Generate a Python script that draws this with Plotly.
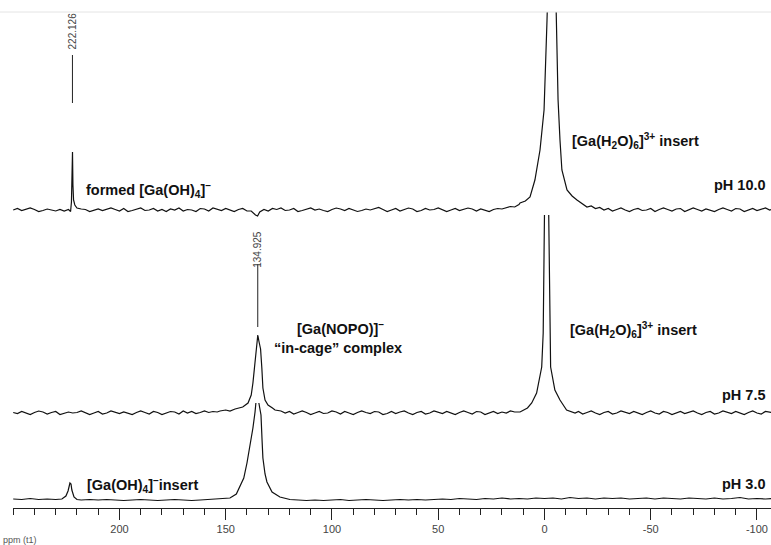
import plotly.graph_objects as go

# ---------------- data (ppm, intensity above each spectrum's own baseline) ----------------
PH10 = [
    (250, 0), (248, 1.5), (246, -0.5), (244, 1), (242, 2), (240, 0.5), (238, -1.5), (236, -0.5), (234, 1), (232, 0),
    (230, -1), (228, 0.5), (226, -1), (224, 0.5), (223, -1.5), (222.6, 8), (222.3, 30), (222.1, 58), (221.9, 25), (221.6, 10),
    (221, 5), (220, 2), (218, 1), (216, 0.5),
    (214, -1.5), (212, 0), (210, 1), (208, -0.5), (206, 0.5), (204, 2), (202, 0.5), (200, -1), (198, 1.5), (196, -1.5),
    (194, -0.5), (192, 1), (190, 2), (188, -0.5), (186, 0), (184, 1.5), (182, -1), (180, 0.5), (178, -1.5), (176, 1),
    (174, 0), (172, 2), (170, -1), (168, 0.5), (166, 0), (164, -1.5), (162, 1.5), (160, 1), (158, -1), (156, 2),
    (154, 0.5), (152, -0.5), (150, 1.5), (148, 0), (146, -1.5), (144, 0.5), (142, 1.5), (140, -1),
    (138, -1), (136, -5), (135, -6), (134, -2),
    (132, 0.5), (130, -1), (128, 1.5), (126, 0.5), (124, 2), (122, -0.5), (120, 0), (118, 1.5), (116, -1.5), (114, -0.5),
    (112, 1), (110, 2), (108, 0), (106, 1), (104, -0.5), (102, -1.5), (100, 0.5), (98, 2), (96, 1), (94, -0.5),
    (92, 1.5), (90, 0), (88, -1.5), (86, -0.5), (84, 1), (82, 0), (80, 1), (78, 2.5), (76, 0.5), (74, -1.5),
    (72, 0), (70, 1.5), (68, -1), (66, 0.5), (64, 2), (62, 1), (60, -1.5), (58, -0.5), (56, 1.5), (54, 0),
    (52, 0.5), (50, 2), (48, 0.5), (46, -1.5), (44, 0), (42, 1.5), (40, -0.5), (38, 0.5), (36, 2), (34, 1),
    (32, -1), (30, 1), (28, 0), (26, -1.5), (24, 0.5), (22, 1.5), (20, 1), (18, 2.5), (16, 3.5), (14, 3),
    (12, 5.5), (11.5, 7), (9, 9), (6.8, 13), (4.5, 30), (2.1, 60), (0.2, 100), (-1.2, 190), (-2.1, 300), (-3.3, 350),
    (-4.5, 300), (-5.4, 197), (-6.4, 110), (-7.3, 70), (-8.2, 40), (-10.6, 20), (-13, 14), (-15.3, 10), (-18, 6), (-20, 3),
    (-22, 4), (-24, 1.5), (-26, 2.5), (-28, 0),
    (-30, 1.5), (-32, -1), (-34, 0.5), (-36, 2), (-38, 0), (-40, -1.5), (-42, 0.5), (-44, 1.5), (-46, -0.5), (-48, 0),
    (-50, 1.5), (-52, -1.5), (-54, 0.5), (-56, 2), (-58, 0.5), (-60, -1), (-62, 1), (-64, 1.5), (-66, -1.5), (-68, 0),
    (-70, 2), (-72, 0.5), (-74, -1), (-76, 1), (-78, 0), (-80, -1.5), (-82, 0.5), (-84, 2), (-86, 0.5), (-88, -1),
    (-90, 1.5), (-92, 1), (-94, -1.5), (-96, 0), (-98, 1.5), (-100, -0.5), (-102, 0.5), (-104, 2), (-106, 0), (-108, 1),
]

PH75 = [
    (250, 0.5), (248, -0.5), (246, 1.5), (244, 0), (242, -1.5), (240, 0.5), (238, 2), (236, 1), (234, -1), (232, 0.5),
    (230, 1.5), (228, -1.5), (226, -0.5), (224, 1), (222, 0), (220, 0.5), (218, 2), (216, 0.5), (214, -1.5), (212, 0),
    (210, 1.5), (208, -1), (206, 0), (204, 2), (202, 1), (200, -0.5), (198, 1), (196, 0), (194, -1.5), (192, 0.5),
    (190, 2), (188, 0.5), (186, -1), (184, 1.5), (182, 0.5), (180, -1.5), (178, 0), (176, 1.5), (174, 1), (172, -1),
    (170, 2), (168, 0), (166, 1.5), (164, -0.5), (162, 0.5), (160, 2), (158, 0.5), (156, 1.5), (154, 1),
    (152.7, 2), (150, 3), (148, 2), (145.6, 4), (142, 6), (139.5, 10), (138, 18), (137.2, 30), (136.2, 50), (135.3, 70),
    (134.9, 78), (134.4, 72), (133.6, 64), (133.0, 45), (132.5, 25), (131.5, 13), (130.1, 8), (128, 5), (126.8, 3), (124, 2),
    (122, 0), (120, 1.5), (118, -1), (116, 0.5), (114, 2), (112, 0.5), (110, -1.5), (108, 0), (106, 1.5), (104, -0.5),
    (102, 0), (100, 2), (98, 1), (96, -1), (94, 1.5), (92, 0), (90, -1.5), (88, 0.5), (86, 2), (84, 0.5),
    (82, -0.5), (80, 1.5), (78, 1), (76, -1.5), (74, -0.5), (72, 1.5), (70, -0.5), (68, 1), (66, 2), (64, 0),
    (62, -1.5), (60, 0.5), (58, 1.5), (56, -1), (54, 0), (52, 2), (50, 1), (48, -0.5), (46, 1.5), (44, 0),
    (42, -1.5), (40, 0.5), (38, 2), (36, 0.5), (34, -1), (32, 1.5), (30, 1), (28, -1.5), (26, 0), (24, 1.5),
    (22, -0.5), (20, 1), (18, 0), (16, 2), (14, 1), (11.5, 1), (8, 5), (6.0, 10), (3.7, 20), (1.3, 46),
    (0.6, 80), (0.2, 150), (0.0, 198), (-1.0, None), (-2.0, 198), (-2.2, 150), (-2.4, 96), (-2.9, 46), (-4.9, 23), (-7.3, 13),
    (-10.4, 3), (-12, 2), (-14.4, 0), (-16, 1.5), (-18, -1), (-20, 0.5), (-22, 2), (-24, 0), (-26, -1.5), (-28, 0.5),
    (-30, 1.5), (-32, -1), (-34, 0), (-36, 2), (-38, 1), (-40, -0.5), (-42, 1.5), (-44, 0), (-46, -1.5), (-48, 0.5),
    (-50, 2), (-52, 0), (-54, -1), (-56, 1.5), (-58, 0.5), (-60, -1.5), (-62, 0), (-64, 1.5), (-66, -0.5), (-68, 1),
    (-70, 2), (-72, 0), (-74, -1.5), (-76, 0.5), (-78, 1.5), (-80, -1), (-82, 0), (-84, 2), (-86, 1), (-88, -0.5),
    (-90, 1.5), (-92, 0), (-94, -1.5), (-96, 0.5), (-98, 2), (-100, 0), (-102, -1), (-104, 1.5), (-106, 0.5), (-108, 0),
]

PH30 = [
    (250, 1), (246, 0.5), (242, 1.5), (238, 0.5), (234, 1), (230, 0.5), (227.1, 1), (225.2, 4), (224.2, 9), (223.3, 17),
    (222.8, 16), (222.4, 10), (221.4, 3), (220, 0.5), (218, 0), (214, 0.5), (210, 0), (206, 0.5), (202, 0), (198, -0.5),
    (194, 0), (190, 0.5), (186, 0), (182, -0.5), (178, 0), (174, 0.5), (170, 0), (166, -0.5), (162, 0), (158, 0.5),
    (154, 0.5), (151.8, 1), (148, 2), (145, 6), (143.3, 13), (141.5, 22), (140, 37), (138.1, 60), (137.2, 72), (136.2, 88),
    (135.8, 97), (135.1, None), (134.4, 97), (133.4, 85), (132.9, 60), (132.5, 42), (131.5, 26), (130.6, 18), (128.2, 8), (124.5, 3),
    (119.8, 0.5), (116, 0), (112, -0.5), (108, 0), (104, -0.5), (100, 0), (96, 0.5), (92, -0.5), (88, 0), (84, 0.5),
    (80, 0), (76, -0.5), (72, 0), (68, 0.5), (64, 0), (60, 0.5), (56, 0), (52, 0.5), (48, 1), (44, 0.5),
    (40, 1.5), (36, 1), (32, 0.5), (28, 1.5), (24, 1), (20, 2), (16, 1), (12, 1.5), (8, 1), (4, 2),
    (0, 1.5), (-4, 2), (-8, 1), (-12, 2.5), (-16, 1.5), (-20, 2), (-24, 1), (-28, 2), (-32, 1.5), (-36, 2),
    (-40, 1), (-44, 1.5), (-48, 2), (-52, 1), (-56, 2), (-60, 1.5), (-64, 1), (-68, 2), (-72, 1.5), (-76, 1),
    (-80, 2), (-84, 1), (-88, 1.5), (-92, 2.5), (-96, 1), (-100, 1.5), (-104, 1), (-108, 1.5),
]

SPECTRUM_NAMES = ["pH 10.0", "pH 7.5", "pH 3.0"]
PEAK_LABELS = [222.126, 134.925]
PEAK_LABEL_TEXT = ["222.126", "134.925"]
TICK_VALUES = [200, 150, 100, 50, 0, -50, -100]
TICK_LABELS = ["200", "150", "100", "50", "0", "-50", "-100"]

# ---------------- layout geometry (pixels) ----------------
W, H = 771, 545
ML, MR, MT, MB = 13, 0, 12, 37
PW, PH = W - ML - MR, H - MT - MB
OFFSETS = [298, 95, 8]          # baseline of each stacked spectrum (y units = px)


def px(xpx):
    return (xpx - ML) / PW


def py(ypx):
    return (H - MB - ypx) / PH


fig = go.Figure()
for data, off, name in zip([PH10, PH75, PH30], OFFSETS, SPECTRUM_NAMES):
    xs = [p for p, _ in data]
    ys = [None if v is None else v + off for _, v in data]
    fig.add_trace(go.Scatter(x=xs, y=ys, mode="lines", name=name,
                             line=dict(color="#111111", width=1.2),
                             connectgaps=False, hoverinfo="skip"))

font_b = dict(family="Liberation Sans, Arial, sans-serif", size=14.5, color="#111111")
annots = [
    ("formed [Ga(OH)<sub>4</sub>]<sup>–</sup>", 84, 190, "left"),
    ("[Ga(H<sub>2</sub>O)<sub>6</sub>]<sup>3+</sup> insert", 570, 141, "left"),
    ("pH 10.0", 768, 185, "right"),
    ("[Ga(NOPO)]<sup>–</sup>", 340, 328, "center"),
    ("“in-cage” complex", 338, 348, "center"),
    ("[Ga(H<sub>2</sub>O)<sub>6</sub>]<sup>3+</sup> insert", 568, 330, "left"),
    ("pH 7.5", 768, 395, "right"),
    ("[Ga(OH)<sub>4</sub>]<sup>–</sup>insert", 85, 485, "left"),
    ("pH 3.0", 768, 484, "right"),
]
for txt, x0, y0, anc in annots:
    fig.add_annotation(text="<b>" + txt + "</b>", x=px(x0), y=py(y0), xref="paper", yref="paper",
                       xanchor=anc, yanchor="middle", showarrow=False, font=font_b)

# peak position labels (rotated) with their tick lines
label_geom = [(31, 55, 103), (249, 264, 327)]   # text centre y, line top y, line bottom y (px)
for val, txt, (ty, l0, l1) in zip(PEAK_LABELS, PEAK_LABEL_TEXT, label_geom):
    fig.add_annotation(text=txt, x=val, xref="x", y=py(ty), yref="paper", textangle=-90,
                       showarrow=False, xanchor="center", yanchor="middle",
                       font=dict(family="Liberation Sans, Arial, sans-serif", size=10, color="#444444"))
    fig.add_shape(type="line", xref="x", yref="paper", x0=val, x1=val, y0=py(l0), y1=py(l1),
                  line=dict(color="#222222", width=1))

fig.add_annotation(text="ppm (t1)", x=px(1), y=py(540), xref="paper", yref="paper",
                   xanchor="left", yanchor="middle", showarrow=False,
                   font=dict(family="Liberation Sans, Arial, sans-serif", size=9, color="#555555"))

fig.add_shape(type="line", xref="paper", yref="paper", x0=-ML / PW, x1=1, y0=1, y1=1,
              line=dict(color="#e4e4e4", width=1))

fig.update_layout(
    width=W, height=H,
    margin=dict(l=ML, r=MR, t=MT, b=MB),
    paper_bgcolor="white", plot_bgcolor="white",
    showlegend=False, hovermode=False,
    xaxis=dict(range=[250.1, -106.6], showgrid=False, zeroline=False,
               showline=True, linecolor="#222222", linewidth=1,
               ticks="outside", ticklen=11, tickcolor="#222222", tickwidth=1,
               tickvals=TICK_VALUES, ticktext=TICK_LABELS,
               tickfont=dict(family="Liberation Sans, Arial, sans-serif", size=11, color="#444444"),
               minor=dict(dtick=10, tick0=0, ticks="outside", ticklen=6, tickcolor="#222222", tickwidth=1)),
    yaxis=dict(range=[0, PH], visible=False, showgrid=False, zeroline=False),
)

fig.write_html("out.html", config={"displayModeBar": False},
               post_script="document.body.style.margin='0px';document.body.style.overflow='hidden';")
